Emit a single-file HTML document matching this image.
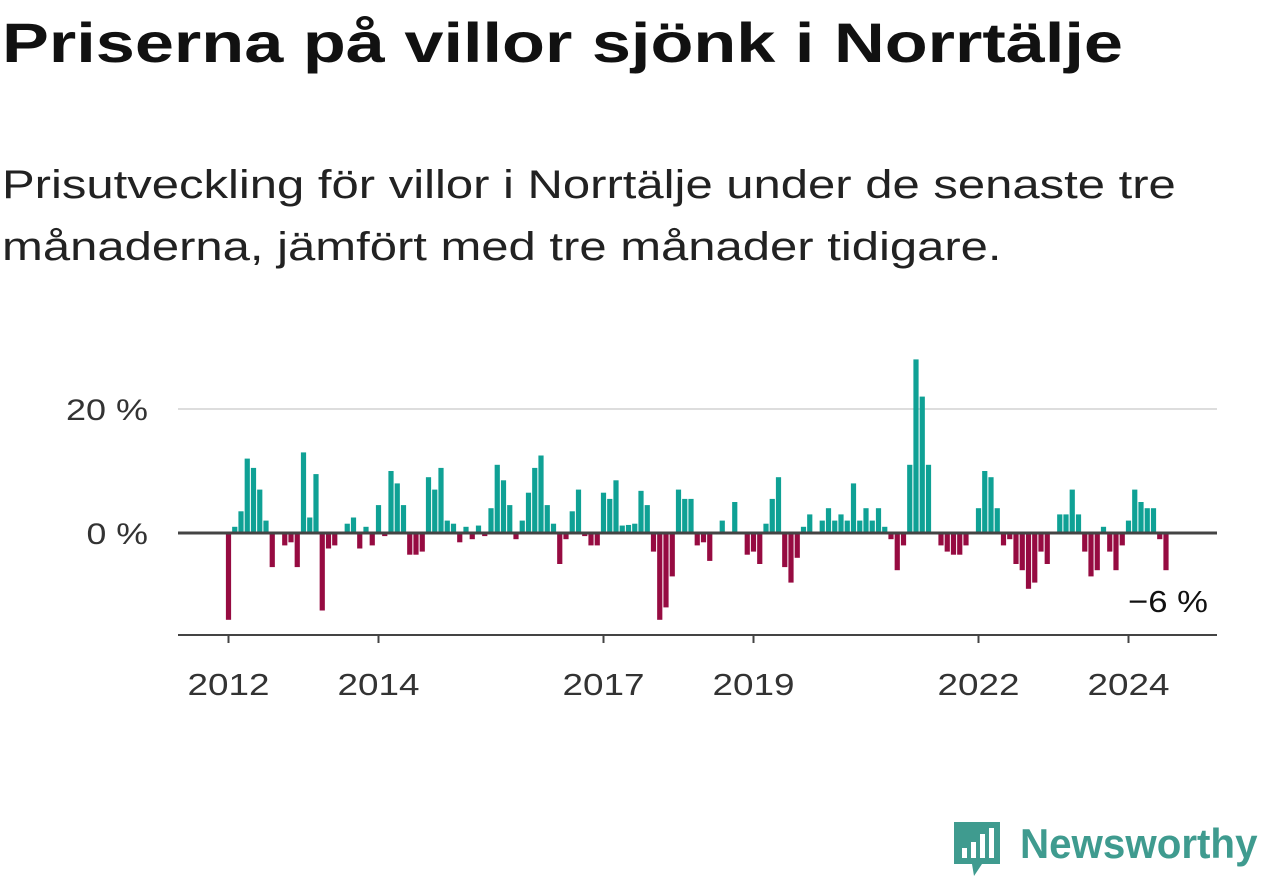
<!DOCTYPE html>
<html><head><meta charset="utf-8"><style>
body{margin:0;width:1262px;height:879px;background:#fff;font-family:"Liberation Sans",sans-serif;overflow:hidden;position:relative}
h1{position:absolute;left:2px;top:10px;margin:0;font-size:56px;font-weight:bold;color:#111;transform:scaleX(1.255);transform-origin:0 0;white-space:nowrap}
.sub{position:absolute;left:2px;top:154px;font-size:40px;line-height:62px;color:#222;transform:scaleX(1.225);transform-origin:0 0;white-space:nowrap}
</style></head><body>
<h1>Priserna på villor sjönk i Norrtälje</h1>
<div class="sub">Prisutveckling för villor i Norrtälje under de senaste tre<br>månaderna, jämfört med tre månader tidigare.</div>
<svg id="chart" width="1262" height="879" style="position:absolute;left:0;top:0"></svg>
<div style="position:absolute;left:952px;top:820px;width:310px;height:59px">
<svg width="50" height="58" style="position:absolute;left:0;top:0"><path d="M2 2h46v42H30l-8 12-2-12H2z" fill="#3f9b8f"/><rect x="10" y="28" width="5" height="10" fill="#fff"/><rect x="19" y="22" width="5" height="16" fill="#fff"/><rect x="28" y="14" width="5" height="24" fill="#fff"/><rect x="37" y="8" width="5" height="30" fill="#fff"/></svg>
<span style="position:absolute;left:68px;top:0;font-size:42px;font-weight:bold;color:#3f9b8f;transform:scaleX(0.96);transform-origin:0 0;white-space:nowrap">Newsworthy</span></div>
<script>
const values=[-14,1,3.5,12,10.5,7,2,-5.5,0,-2,-1.5,-5.5,
13,2.5,9.5,-12.5,-2.5,-2,0,1.5,2.5,-2.5,1,-2,
4.5,-0.5,10,8,4.5,-3.5,-3.5,-3,9,7,
10.5,2,1.5,-1.5,1,-1,1.2,-0.5,4,11,
8.5,4.5,-1,2,6.5,10.5,12.5,4.5,1.5,-5,
-1,3.5,7,-0.5,-2,-2,6.5,5.5,8.5,1.2,
1.3,1.5,6.8,4.5,-3,-14,-12,-7,7,5.5,
5.5,-2,-1.5,-4.5,0,2,0,5,0,-3.5,
-3,-5,1.5,5.5,9,-5.5,-8,-4,1,3,
0,2,4,2,3,2,8,2,4,2,
4,1,-1,-6,-2,11,28,22,11,0,
-2,-3,-3.5,-3.5,-2,0,4,10,9,4,
-2,-1,-5,-6,-9,-8,-3,-5,0,3,
3,7,3,-3,-7,-6,1,-3,-6,-2,
2,7,5,4,4,-1,-6];
const yTicks=[0,20];
const yearLabels=[2012,2014,2017,2019,2022,2024];
const startYear=2012;
const lastLabel="−6 %";
const svg=document.getElementById('chart');
const NS='http://www.w3.org/2000/svg';
const y=v=>533-v*6.2;
const x=i=>228.5+i*6.25;
const xYear=yr=>228.5+(yr-startYear)*12*6.25;
function mk(t,a){const e=document.createElementNS(NS,t);for(const k in a)e.setAttribute(k,a[k]);svg.appendChild(e);return e;}
yTicks.forEach(t=>{
 if(t!==0){const g=mk('line',{x1:178,x2:1217,y1:y(t),y2:y(t),stroke:'#ddd','stroke-width':2});
 
 }
 const s=t+' %';
 const l=mk('text',{x:148,y:y(t)+11,'text-anchor':'end','font-size':30,fill:'#333','font-family':'Liberation Sans, sans-serif',textLength:s.length*20.5,lengthAdjust:'spacingAndGlyphs'});
 l.textContent=s;
 
 
});
values.forEach((v,i)=>{
 const r=mk('rect',{x:x(i)-2.6,width:5.2,y:Math.min(y(v),y(0)),height:Math.abs(y(v)-y(0)),fill:v>=0?'#0fa195':'#960b41'});
 
 
});
const z=mk('line',{x1:178,x2:1217,y1:y(0),y2:y(0),stroke:'#444','stroke-width':3});


const ax=mk('line',{x1:178,x2:1217,y1:635,y2:635,stroke:'#444','stroke-width':2});


yearLabels.forEach(yr=>{
 const t=mk('line',{x1:xYear(yr),x2:xYear(yr),y1:635,y2:643,stroke:'#444','stroke-width':2});
 
 
 const l=mk('text',{x:xYear(yr),y:695,'text-anchor':'middle','font-size':31,fill:'#333','font-family':'Liberation Sans, sans-serif',textLength:82,lengthAdjust:'spacingAndGlyphs'});
 l.textContent=yr;
 
 
});
const a=mk('text',{x:1208,y:612,'text-anchor':'end','font-size':31,fill:'#111','font-family':'Liberation Sans, sans-serif',textLength:80,lengthAdjust:'spacingAndGlyphs'});
a.textContent=lastLabel;


</script>
</body></html>
